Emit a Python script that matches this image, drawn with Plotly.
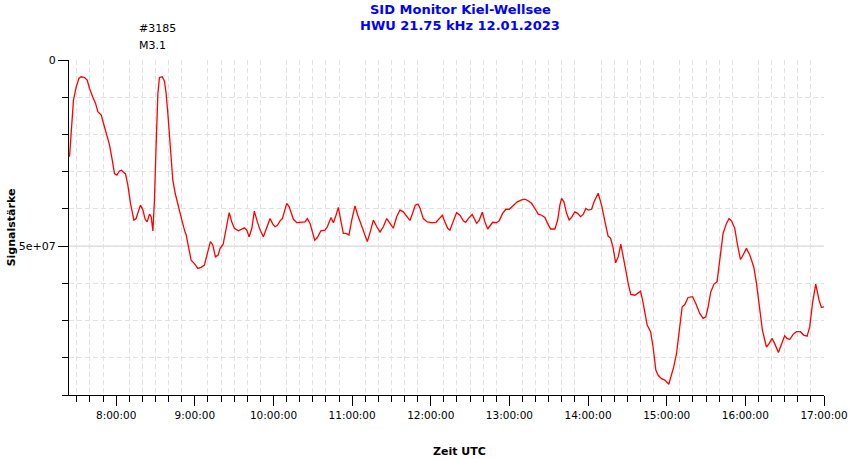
import pandas as pd
import plotly.graph_objects as go

# Zeitpunkte in Minuten seit Mitternacht (12.01.2023, UTC)
minuten = [
    444.4, 445.7, 447.4, 449.5, 451.6, 453.3, 455.8, 457.9, 459.6, 462.2,
    464.2, 466.0, 468.6, 470.3, 472.9, 474.9, 477.0, 478.7, 480.5, 482.5,
    484.0, 487.1, 488.9, 490.9, 493.5, 495.2, 498.5, 500.4, 502.1, 503.6,
    505.4, 506.7, 508.0, 509.2, 510.5, 511.8, 513.0, 515.1, 516.8, 518.1,
    519.4, 521.2, 523.2, 525.0, 526.5, 528.3, 530.1, 532.1, 533.4, 535.4,
    537.2, 539.7, 542.3, 544.8, 547.3, 549.9, 551.9, 553.7, 555.7, 557.8,
    559.3, 561.6, 563.9, 566.2, 568.2, 570.2, 573.2, 575.8, 577.8, 579.6,
    581.4, 583.5, 585.4, 587.7, 589.8, 592.3, 594.9, 597.4, 599.5, 601.2,
    603.0, 605.0, 606.8, 608.8, 610.1, 611.9, 613.4, 615.2, 617.8, 621.6,
    624.1, 625.8, 627.9, 629.7, 631.5, 633.5, 636.1, 639.3, 641.1, 643.9,
    645.7, 647.7, 649.5, 651.3, 653.3, 655.4, 657.6, 659.7, 662.2, 664.3,
    666.0, 668.5, 671.6, 674.2, 676.2, 678.8, 681.3, 683.8, 686.4, 688.9,
    691.4, 694.0, 696.5, 699.0, 701.6, 704.1, 706.2, 708.2, 710.2, 711.8,
    714.3, 717.3, 720.7, 724.0, 726.5, 728.8, 730.8, 732.9, 734.6, 737.2,
    739.7, 742.3, 744.8, 746.6, 748.6, 751.6, 753.2, 755.0, 757.0, 759.3,
    761.3, 763.4, 765.1, 767.2, 770.2, 772.2, 774.8, 777.3, 779.9, 782.9,
    786.0, 789.3, 791.8, 794.3, 796.9, 799.4, 802.0, 804.6, 807.1, 809.1,
    811.4, 814.7, 816.8, 818.5, 819.8, 821.6, 823.6, 825.6, 827.4, 829.9,
    832.0, 834.3, 836.3, 838.3, 840.1, 842.7, 844.8, 847.7, 850.3, 852.8,
    855.3, 857.2, 859.2, 861.0, 863.0, 865.0, 866.8, 868.8, 870.6, 872.6,
    875.7, 878.2, 880.0, 881.6, 883.3, 885.1, 887.7, 889.6, 891.7, 893.5,
    896.1, 898.6, 901.6, 903.7, 905.4, 907.5, 909.5, 911.8, 913.8, 916.3,
    919.7, 922.2, 925.2, 927.8, 929.8, 931.6, 933.6, 936.1, 938.4, 940.5,
    943.0, 945.6, 947.6, 949.4, 951.9, 954.0, 956.3, 958.3, 960.8, 963.4,
    966.4, 968.5, 970.5, 973.0, 976.1, 978.1, 980.4, 982.4, 985.2, 987.5,
    990.0, 991.8, 993.9, 996.4, 999.0, 1002.0, 1004.5, 1007.1, 1009.1, 1011.2,
    1013.7, 1016.2, 1018.0, 1020.0,
]

# Signalstärke in Millionen
signal_mio = [
    26.0, 17.9, 10.8, 7.2, 4.9, 4.5, 4.7, 5.4, 7.6, 10.0,
    11.6, 13.9, 14.8, 17.0, 20.6, 22.8, 26.9, 30.5, 30.9, 29.8,
    29.6, 30.6, 33.6, 38.5, 43.0, 42.6, 39.0, 40.3, 42.8, 43.5,
    41.4, 42.1, 45.9, 37.6, 22.4, 9.0, 4.7, 4.5, 5.6, 9.0,
    14.3, 22.4, 32.3, 35.8, 38.1, 40.3, 43.0, 45.7, 47.0, 50.6,
    53.8, 54.7, 56.0, 55.7, 55.1, 51.5, 48.8, 49.7, 52.9, 52.4,
    50.6, 49.5, 45.0, 41.0, 43.5, 45.2, 45.9, 45.5, 45.1, 45.7,
    47.5, 45.2, 40.6, 43.5, 45.7, 47.5, 44.8, 42.6, 44.1, 44.8,
    44.4, 43.2, 42.6, 40.3, 38.5, 39.4, 41.2, 42.8, 43.7, 43.7,
    43.5, 42.6, 43.9, 46.2, 48.4, 47.7, 45.9, 45.7, 44.8, 42.3,
    43.7, 41.7, 39.6, 43.0, 46.6, 46.6, 47.0, 43.0, 39.2, 41.7,
    43.5, 45.7, 48.8, 45.7, 43.0, 44.8, 46.2, 44.8, 42.6, 43.9,
    45.2, 42.1, 40.3, 40.8, 41.9, 43.1, 41.1, 39.0, 38.7, 39.8,
    42.6, 43.5, 43.7, 43.6, 42.6, 41.7, 43.5, 45.2, 45.7, 43.0,
    41.0, 41.7, 43.2, 43.6, 42.6, 41.5, 42.6, 43.9, 43.0, 40.9,
    43.5, 45.4, 44.6, 43.6, 43.7, 43.2, 41.2, 40.1, 40.1, 39.0,
    38.1, 37.6, 37.4, 37.8, 38.5, 39.9, 41.4, 41.7, 42.3, 43.9,
    45.4, 45.4, 43.0, 39.0, 37.2, 38.1, 41.2, 43.0, 42.3, 40.8,
    41.2, 42.1, 41.5, 39.9, 40.3, 40.1, 37.9, 35.8, 39.0, 43.3,
    47.3, 47.9, 50.6, 54.5, 52.9, 49.5, 52.4, 56.5, 60.0, 63.0,
    63.2, 62.6, 62.1, 64.5, 68.1, 71.2, 73.0, 77.1, 83.3, 84.7,
    85.6, 86.0, 87.1, 84.7, 82.4, 78.8, 72.6, 66.3, 65.7, 63.8,
    63.6, 65.4, 68.1, 69.4, 69.0, 66.3, 62.3, 60.2, 59.6, 53.8,
    46.6, 43.9, 42.6, 43.2, 45.2, 49.7, 53.6, 52.4, 50.6, 52.4,
    55.6, 60.0, 65.4, 72.6, 77.1, 76.2, 74.8, 76.2, 78.6, 76.6,
    74.1, 74.8, 75.1, 73.7, 73.0, 73.0, 73.9, 74.2, 71.7, 65.4,
    60.2, 64.5, 66.5, 66.3,
]

y_ticks = [0, 5e7]
y_tick_text = ["0", "5e+07"]
bezugslinie = 5e7
titel_zeilen = ["SID Monitor Kiel-Wellsee", "HWU 21.75 kHz 12.01.2023"]

tag = pd.Timestamp("2023-01-12")
zeit = tag + pd.to_timedelta(minuten, unit="min")
signal = [v * 1e6 for v in signal_mio]

schrift = "DejaVu Sans"
gitter = "#e2e2e2"

fig = go.Figure()

fig.add_trace(go.Scatter(
    x=zeit,
    y=signal,
    mode="lines",
    line=dict(color="#ff0000", width=1.3),
    showlegend=False,
))

fig.add_shape(
    type="line", xref="paper", x0=0, x1=1, yref="y", y0=bezugslinie, y1=bezugslinie,
    line=dict(color="#c8c8c8", width=1), layer="below",
)

# Titel (zwei Zeilen, blau)
for zeile, ypos in zip(titel_zeilen, [1.152, 1.104]):
    fig.add_annotation(
        text=f"<b>{zeile}</b>", x=0.518, y=ypos, xref="paper", yref="paper",
        xanchor="center", yanchor="middle", showarrow=False,
        font=dict(family=schrift, size=13, color="#0000ff"),
    )

# Flare-Markierung
fig.add_annotation(
    text="#3185", x=tag + pd.Timedelta(minutes=495.8), y=1.095, xref="x", yref="paper",
    xanchor="left", yanchor="middle", showarrow=False,
    font=dict(family=schrift, size=11, color="black"),
)
fig.add_annotation(
    text="M3.1", x=tag + pd.Timedelta(minutes=495.8), y=1.044, xref="x", yref="paper",
    xanchor="left", yanchor="middle", showarrow=False,
    font=dict(family=schrift, size=11, color="black"),
)
fig.add_annotation(
    text="<b>Zeit UTC</b>", x=0.517, y=-0.17, xref="paper", yref="paper",
    xanchor="center", yanchor="middle", showarrow=False,
    font=dict(family=schrift, size=11, color="black"),
)

fig.update_layout(
    width=850,
    height=459,
    paper_bgcolor="white",
    plot_bgcolor="white",
    margin=dict(l=69, r=26, t=60, b=64),
    font=dict(family=schrift, size=10.5, color="black"),
)

fig.update_xaxes(
    range=[tag + pd.Timedelta(minutes=444), tag + pd.Timedelta(hours=17)],
    tickformat="%-H:%M:%S",
    dtick=3600000,
    tick0=tag,
    ticks="outside",
    ticklen=10,
    tickcolor="black",
    showline=True,
    linecolor="black",
    linewidth=1,
    showgrid=False,
    zeroline=False,
    automargin=False,
    minor=dict(
        dtick=600000, tick0=tag, ticks="outside", ticklen=6, tickcolor="black",
        showgrid=True, gridcolor=gitter, griddash="5px,3px", gridwidth=1,
    ),
)

fig.update_yaxes(
    range=[9e7, 0],
    tickvals=y_ticks,
    ticktext=y_tick_text,
    tickfont=dict(size=11),
    ticks="outside",
    ticklen=10,
    tickcolor="black",
    showline=True,
    linecolor="black",
    linewidth=1,
    showgrid=False,
    zeroline=False,
    automargin=False,
    title=dict(text="<b>Signalstärke</b>", font=dict(family=schrift, size=11), standoff=0),
    minor=dict(
        dtick=1e7, tick0=0, ticks="outside", ticklen=6, tickcolor="black",
        showgrid=True, gridcolor=gitter, griddash="5px,3px", gridwidth=1,
    ),
)

# Seitenrand des Browsers entfernen, damit die Grafik bei (0, 0) beginnt
fig.write_html(
    "out.html",
    config={"displayModeBar": False},
    post_script="document.body.style.margin = '0';",
)
